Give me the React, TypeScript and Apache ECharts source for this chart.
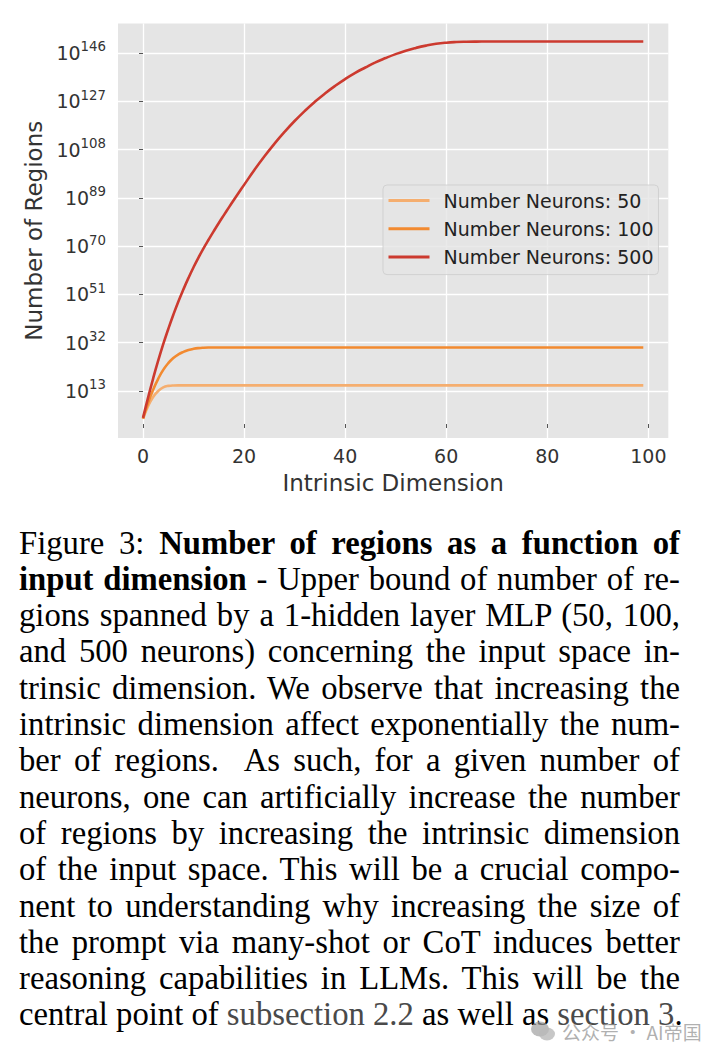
import React, { useEffect, useRef } from "react";
import * as echarts from "echarts";

const seriesNames = ["Number Neurons: 50", "Number Neurons: 100", "Number Neurons: 500"];
const seriesColors = ["#f5ae6f", "#f28a30", "#cc3a2f"];

// x = intrinsic dimension, y = log10(number of regions)
const dims50 = [0, 1, 2, 3, 4, 5, 6, 7, 8, 99];
const logRegions50 = [2.0, 7.0, 10.6, 13.0, 14.4, 15.0, 15.18, 15.2, 15.2, 15.2];

const dims100 = [0, 1, 2, 3, 4, 5, 6, 7, 8, 9, 10, 11, 12, 13, 14, 99];
const logRegions100 = [2.1, 8.3, 13.5, 17.8, 21.3, 23.95, 25.95, 27.4, 28.4, 29.1, 29.58, 29.88, 30.03, 30.09, 30.1, 30.1];

const dims500 = [
  0, 1, 2, 3, 4, 5, 6, 7, 8, 9, 10, 11, 12, 13, 14, 15, 16, 17, 18, 19, 20,
  22, 24, 26, 28, 30, 32, 34, 36, 38, 40, 42, 44, 46, 48, 50, 52, 54, 56, 58, 60, 62, 64, 66, 68, 70,
  75, 80, 85, 90, 95, 99,
];
const logRegions500 = [
  2.4, 10.4, 17.9, 24.9, 31.4, 37.4, 43.0, 48.2, 53.0, 57.5, 61.7, 65.6, 69.2, 72.6, 75.9, 79.1, 82.2, 85.25, 88.25, 91.2, 94.1,
  99.85, 105.25, 110.27, 114.93, 119.23, 123.17, 126.77, 130.05, 133.03, 135.73, 138.15, 140.29, 142.3, 144.0, 145.55, 146.9, 148.0, 148.9, 149.6, 150.05, 150.3, 150.42, 150.48, 150.5, 150.5,
  150.5, 150.5, 150.5, 150.5, 150.5, 150.5,
];

const xTicks = [0, 20, 40, 60, 80, 100];
const yTickExponents = [13, 32, 51, 70, 89, 108, 127, 146];

const captionLines: { parts: { t: string; b?: boolean; g?: boolean }[]; last?: boolean }[] = [
  { parts: [{ t: "Figure 3: " }, { t: "Number of regions as a function of", b: true }] },
  { parts: [{ t: "input dimension", b: true }, { t: " - Upper bound of number of re-" }] },
  { parts: [{ t: "gions spanned by a 1-hidden layer MLP (50, 100," }] },
  { parts: [{ t: "and 500 neurons) concerning the input space in-" }] },
  { parts: [{ t: "trinsic dimension. We observe that increasing the" }] },
  { parts: [{ t: "intrinsic dimension affect exponentially the num-" }] },
  { parts: [{ t: "ber of regions.  As such, for a given number of" }] },
  { parts: [{ t: "neurons, one can artificially increase the number" }] },
  { parts: [{ t: "of regions by increasing the intrinsic dimension" }] },
  { parts: [{ t: "of the input space. This will be a crucial compo-" }] },
  { parts: [{ t: "nent to understanding why increasing the size of" }] },
  { parts: [{ t: "the prompt via many-shot or CoT induces better" }] },
  { parts: [{ t: "reasoning capabilities in LLMs. This will be the" }] },
  {
    parts: [
      { t: "central point of " },
      { t: "subsection 2.2", g: true },
      { t: " as well as " },
      { t: "section 3", g: true },
      { t: "." },
    ],
    last: true,
  },
];

const FONT = "DejaVu Sans";
const TEXT = "#333333";

function Chart() {
  const ref = useRef<HTMLDivElement>(null);
  useEffect(() => {
    if (!ref.current) return;
    const chart = echarts.init(ref.current, null, { renderer: "svg" });
    const dims = [dims50, dims100, dims500];
    const logs = [logRegions50, logRegions100, logRegions500];
    chart.setOption({
      animation: false,
      textStyle: { fontFamily: FONT },
      grid: {
        left: 118,
        top: 23.5,
        width: 550.3,
        height: 414.5,
        show: true,
        backgroundColor: "#e5e5e5",
        borderWidth: 0,
        containLabel: false,
      },
      legend: {
        orient: "vertical",
        left: 383,
        top: 185,
        padding: [6, 5, 8, 5.5],
        itemWidth: 41,
        itemHeight: 3,
        itemGap: 9.3,
        icon: "rect",
        backgroundColor: "rgba(229,229,229,0.8)",
        borderColor: "rgba(204,204,204,0.8)",
        borderWidth: 1,
        borderRadius: 4,
        data: seriesNames,
        textStyle: {
          fontFamily: FONT,
          fontSize: 19,
          lineHeight: 19,
          color: "#222",
          padding: [0, 0, 0, 9],
        },
      },
      xAxis: {
        type: "value",
        min: -4.95,
        max: 103.95,
        name: "Intrinsic Dimension",
        nameLocation: "middle",
        nameGap: 33,
        nameTextStyle: { fontFamily: FONT, fontSize: 23, color: TEXT },
        axisLine: { show: false },
        axisTick: { show: true, length: 4, lineStyle: { color: "#555" }, customValues: xTicks },
        axisLabel: {
          customValues: xTicks,
          fontFamily: FONT,
          fontSize: 19,
          color: TEXT,
          margin: 8,
        },
        splitLine: { show: true, lineStyle: { color: "#ffffff", width: 1.3 } },
      },
      yAxis: {
        type: "value",
        min: -5.5,
        max: 157.6,
        name: "Number of Regions",
        nameLocation: "middle",
        nameGap: 68,
        nameRotate: 90,
        nameTextStyle: { fontFamily: FONT, fontSize: 23, color: TEXT },
        axisLine: { show: false },
        axisTick: { show: true, length: 4, lineStyle: { color: "#555" }, customValues: yTickExponents },
        axisLabel: {
          customValues: yTickExponents,
          margin: 12,
          formatter: (v: number) => `{b|10}{e|${Math.round(v)}}`,
          rich: {
            b: { fontFamily: FONT, fontSize: 19, color: TEXT, lineHeight: 22 },
            e: { fontFamily: FONT, fontSize: 13.3, color: TEXT, lineHeight: 14, padding: [0, 0, 12, 0] },
          },
        },
        splitLine: { show: true, lineStyle: { color: "#ffffff", width: 1.3 } },
      },
      series: seriesNames.map((name, i) => ({
        name,
        type: "line",
        data: dims[i].map((d, j) => [d, logs[i][j]]),
        showSymbol: false,
        symbol: "none",
        smooth: 0.5,
        color: seriesColors[i],
        lineStyle: { color: seriesColors[i], width: 2.6 },
        z: 2 + i,
      })),
    });
    return () => chart.dispose();
  }, []);
  return <div ref={ref} style={{ position: "absolute", left: 0, top: 0, width: 712, height: 510 }} />;
}

export default function App() {
  const lineH = 36.3;
  const top0 = 524.5;
  return (
    <div style={{ position: "absolute", left: 0, top: 0, width: 712, height: 1059, background: "#fff", overflow: "hidden" }}>
      <Chart />
      {captionLines.map((ln, i) => (
        <div
          key={i}
          style={{
            position: "absolute",
            left: 19,
            top: top0 + i * lineH,
            width: 661,
            height: lineH,
            lineHeight: lineH + "px",
            fontFamily: "'Liberation Serif', 'Times New Roman', serif",
            fontSize: 32.7,
            color: "#000",
            whiteSpace: "nowrap",
            textAlign: ln.last ? "left" : "justify",
            textAlignLast: ln.last ? "left" : "justify",
          }}
        >
          {ln.parts.map((p, k) => (
            <span key={k} style={{ fontWeight: p.b ? "bold" : "normal", color: p.g ? "#4a4a4a" : "#000", whiteSpace: "pre" }}>
              {p.t}
            </span>
          ))}
        </div>
      ))}
      <div
        style={{
          position: "absolute",
          left: 530,
          top: 1018,
          height: 26,
          display: "flex",
          alignItems: "center",
          color: "rgba(150,150,150,0.75)",
          fontFamily: "'Noto Sans CJK SC', sans-serif",
          fontSize: 19,
        }}
      >
        <svg width="26" height="22" viewBox="0 0 26 22" style={{ marginRight: 6 }}>
          <ellipse cx="10" cy="9" rx="9" ry="7.5" fill="rgba(160,160,160,0.7)" />
          <ellipse cx="17" cy="14" rx="8" ry="6.5" fill="rgba(185,185,185,0.8)" />
        </svg>
        <span>公众号 · AI帝国</span>
      </div>
    </div>
  );
}
